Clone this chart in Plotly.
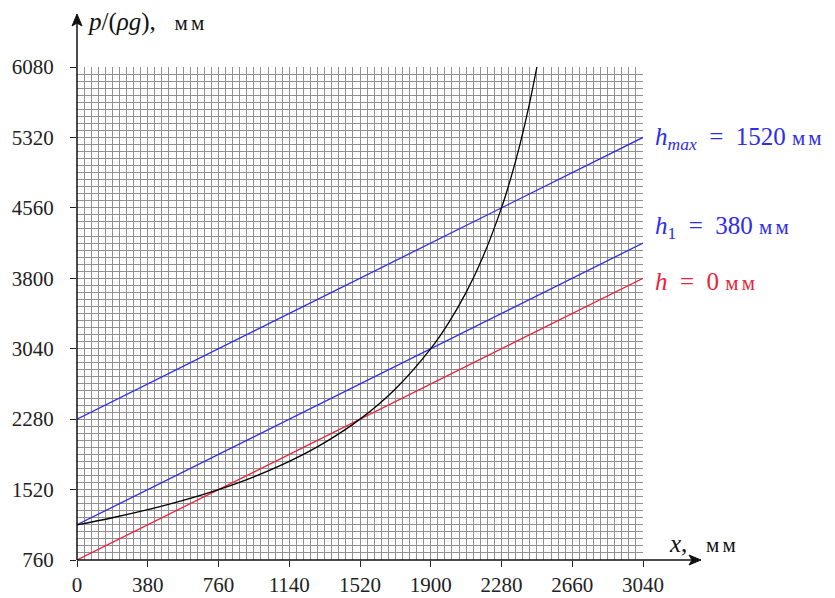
import plotly.graph_objects as go

# data
x_line = [0, 3040]
y_h0 = [760, 3800]
y_h1 = [1140, 4180]
y_hmax = [2280, 5320]

x_curve = [0, 190, 380, 570, 760, 950, 1140, 1330, 1520, 1710, 1900, 2000, 2090, 2180, 2280, 2330, 2380, 2430, 2470]
y_curve = [1140, 1216, 1303, 1403, 1520, 1658, 1824, 2027, 2280, 2606, 3040, 3332, 3648, 4030, 4560, 4881, 5251, 5681, 6080]

x_ticks = [0, 380, 760, 1140, 1520, 1900, 2280, 2660, 3040]
y_ticks = [760, 1520, 2280, 3040, 3800, 4560, 5320, 6080]

BLUE = "rgb(45,45,235)"
RED = "rgb(235,35,60)"
FONT = "Liberation Serif"

fig = go.Figure()
fig.add_trace(go.Scatter(x=x_line, y=y_hmax, mode="lines", line=dict(color=BLUE, width=1.3)))
fig.add_trace(go.Scatter(x=x_line, y=y_h1, mode="lines", line=dict(color=BLUE, width=1.3)))
fig.add_trace(go.Scatter(x=x_line, y=y_h0, mode="lines", line=dict(color=RED, width=1.3)))
fig.add_trace(go.Scatter(x=x_curve, y=y_curve, mode="lines", line=dict(color="black", width=1.3, shape="spline")))

OFF = 8  # page body margin
W, H = 835 - OFF, 598 - OFF
L, T = 77 - OFF, 67 - OFF
R = W - (643 - OFF)
B = H - (560 - OFF)
pw = W - L - R
ph = H - T - B


def px(xw):
    return (xw - OFF - L) / pw


def py(yw):
    return (560 - yw) / ph


fig.update_layout(
    width=W, height=H,
    margin=dict(l=L, r=R, t=T, b=B, pad=0, autoexpand=False),
    plot_bgcolor="white", paper_bgcolor="white",
    showlegend=False,
    font=dict(family=FONT, size=21, color="#222"),
    xaxis=dict(
        range=[0, 3040], tickvals=x_ticks, ticktext=[str(v) for v in x_ticks],
        showgrid=False, zeroline=False, showline=False, automargin=False,
        ticks="outside", ticklen=6, tickcolor="#222", tickwidth=1.2,
        minor=dict(dtick=38, tick0=0, showgrid=True, gridcolor="#909090", gridwidth=1, ticks=""),
        fixedrange=True,
    ),
    yaxis=dict(
        range=[760, 6080], tickvals=y_ticks, ticktext=[str(v) for v in y_ticks],
        showgrid=False, zeroline=False, showline=False, automargin=False,
        ticks="outside", ticklen=6, tickcolor="#222", tickwidth=1.2,
        ticklabelstandoff=12,
        minor=dict(dtick=76, tick0=760, showgrid=True, gridcolor="#909090", gridwidth=1, ticks=""),
        fixedrange=True,
    ),
)

ax_col = "#111"
fig.add_shape(type="line", xref="paper", yref="paper", x0=0, y0=0, x1=px(692), y1=0,
              line=dict(color=ax_col, width=1.5))
fig.add_shape(type="line", xref="paper", yref="paper", x0=0, y0=0, x1=0, y1=py(23),
              line=dict(color=ax_col, width=1.5))
fig.add_shape(type="path", xref="paper", yref="paper",
              path=f"M {px(701)},{py(560)} L {px(689)},{py(555)} L {px(692)},{py(560)} L {px(689)},{py(565)} Z",
              fillcolor=ax_col, line=dict(color=ax_col, width=1))
fig.add_shape(type="path", xref="paper", yref="paper",
              path=f"M {px(77)},{py(14)} L {px(72)},{py(26)} L {px(77)},{py(23)} L {px(82)},{py(26)} Z",
              fillcolor=ax_col, line=dict(color=ax_col, width=1))

MM = "<span style='font-size:21px;letter-spacing:3px'>мм</span>"

fig.add_annotation(x=px(85), y=py(22), xref="paper", yref="paper",
                   xanchor="left", yanchor="middle", showarrow=False,
                   text="<i>p</i>/(<i>ρg</i>),&nbsp;&nbsp; " + MM,
                   font=dict(family=FONT, size=25, color="#111"))
fig.add_annotation(x=px(667), y=py(543), xref="paper", yref="paper",
                   xanchor="left", yanchor="middle", showarrow=False,
                   text="<i>x</i>,&nbsp;&nbsp; " + MM,
                   font=dict(family=FONT, size=25, color="#111"))

labels = [
    ("<i>h</i><sub><i>max</i></sub>&nbsp; = &nbsp;1520 " + MM, BLUE, 138),
    ("<i>h</i><sub>1</sub>&nbsp; = &nbsp;380 " + MM, BLUE, 228),
    ("<i>h</i>&nbsp; = &nbsp;0 " + MM, RED, 281),
]
for txt, col, ypx in labels:
    fig.add_annotation(x=px(653), y=py(ypx), xref="paper", yref="paper",
                       xanchor="left", yanchor="middle", showarrow=False,
                       text=txt, font=dict(family=FONT, size=25, color=col))

fig.write_html("out.html")
